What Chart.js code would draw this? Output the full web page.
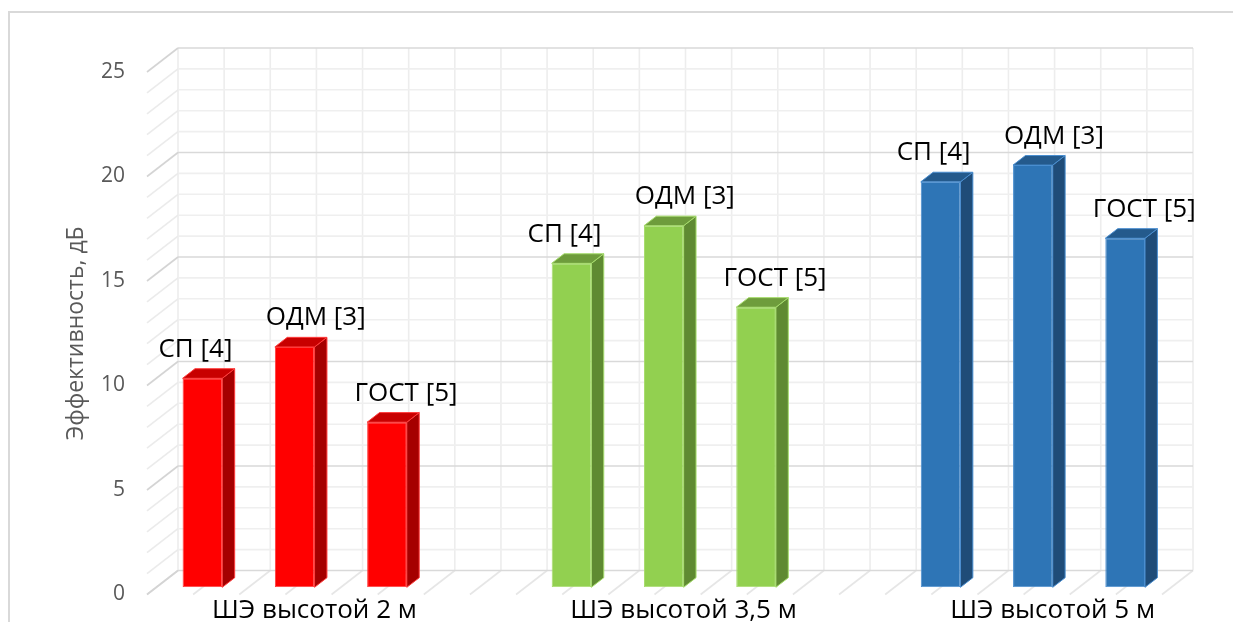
<!DOCTYPE html>
<html lang="ru">
<head>
<meta charset="utf-8">
<title>Эффективность шумозащитных экранов</title>
<script src="https://cdn.jsdelivr.net/npm/chart.js@4.4.1/dist/chart.umd.min.js"></script>
<style>
  html, body { margin: 0; padding: 0; background: #ffffff; }
  canvas { display: block; }
</style>
</head>
<body>
<canvas id="chart" width="1233" height="622"></canvas>
<script>
// ---- data ----
const groups = ['ШЭ высотой 2 м', 'ШЭ высотой 3,5 м', 'ШЭ высотой 5 м'];
const seriesNames = ['СП [4]', 'ОДМ [3]', 'ГОСТ [5]'];
const spValues = [10.0, 15.5, 19.4];
const odmValues = [11.5, 17.3, 20.2];
const gostValues = [7.9, 13.4, 16.7];
const yTicks = [0, 5, 10, 15, 20, 25];

// ---- look ----
const groupColors = [
  { front: '#ff0000', side: '#a50000', top: '#c80000', edge: '#ff3c3c' },
  { front: '#92d050', side: '#5f8a32', top: '#6e9c3c', edge: '#a6dc6c' },
  { front: '#2e75b6', side: '#1f4c78', top: '#245a8c', edge: '#4a8ed0' }
];
const labelShift = [-7, 21, 19];     // horizontal nudge of each series' value label
const DEPTH = { x: 31, y: -24 };     // floor depth: front plane -> back wall
const BAR_FRONT = 0.3;               // bars start 30% into the floor depth
const BAR_DEPTH = 0.4;               // and are 40% of it deep

// one slot per bar, plus an empty slot between groups
const seriesValues = [spValues, odmValues, gostValues];
const slotsPerGroup = seriesNames.length + 1;
const slotCount = groups.length * slotsPerGroup - 1;
const middleSeries = Math.floor(seriesNames.length / 2);
const slotLabels = Array.from({ length: slotCount }, (_, i) =>
  i % slotsPerGroup === middleSeries ? groups[Math.floor(i / slotsPerGroup)] : '');
const groupOf = i => Math.floor(i / slotsPerGroup);

const datasets = seriesValues.map((vals, s) => ({
  label: seriesNames[s],
  data: Array.from({ length: slotCount }, (_, i) =>
    i % slotsPerGroup === s ? vals[groupOf(i)] : null),
  backgroundColor: ctx => groupColors[groupOf(ctx.dataIndex)].front,
  borderColor: ctx => groupColors[groupOf(ctx.dataIndex)].edge,
  borderWidth: 1,
  borderSkipped: false,
  grouped: false,
  categoryPercentage: 1,
  barPercentage: 0.43
}));

function line(ctx, x1, y1, x2, y2) {
  ctx.beginPath();
  ctx.moveTo(x1, y1);
  ctx.lineTo(x2, y2);
  ctx.stroke();
}

function poly(ctx, pts, fill, stroke) {
  ctx.beginPath();
  ctx.moveTo(pts[0][0], pts[0][1]);
  for (let k = 1; k < pts.length; k++) ctx.lineTo(pts[k][0], pts[k][1]);
  ctx.closePath();
  ctx.fillStyle = fill;
  ctx.fill();
  ctx.strokeStyle = stroke;
  ctx.lineWidth = 1;
  ctx.stroke();
}

// outer frame of the chart
const framePlugin = {
  id: 'frame',
  beforeDraw(chart) {
    const { ctx } = chart;
    ctx.save();
    ctx.fillStyle = '#ffffff';
    ctx.fillRect(0, 0, chart.width, chart.height);
    ctx.strokeStyle = '#d9d9d9';
    ctx.lineWidth = 2;
    ctx.strokeRect(9, 12, chart.width + 50, chart.height + 50);
    ctx.restore();
  }
};

// walls, floor and the 3D column faces
const box3dPlugin = {
  id: 'box3d',
  beforeDatasetsDraw(chart) {
    const { ctx, chartArea: a, scales: { x, y } } = chart;
    const half = (x.getPixelForValue(1) - x.getPixelForValue(0)) / 2;
    const nLines = slotCount * 2;
    const yMin = y.min, yMax = y.max;
    const y0 = y.getPixelForValue(yMin);
    const yTop = y.getPixelForValue(yMax);

    ctx.save();
    ctx.lineWidth = 1.6;

    // back wall verticals and floor lines
    for (let k = 0; k <= nLines; k++) {
      const px = a.left + k * half;
      ctx.strokeStyle = '#ededed';
      line(ctx, px + DEPTH.x, yTop + DEPTH.y, px + DEPTH.x, y0 + DEPTH.y);
      ctx.strokeStyle = '#e6e6e6';
      line(ctx, px + DEPTH.x, y0 + DEPTH.y, px, y0);
    }
    // minor then major horizontal lines (back wall + side wall)
    [false, true].forEach(majorPass => {
      for (let v = yMin; v <= yMax; v += 1) {
        const major = yTicks.includes(v);
        if (major !== majorPass) continue;
        const py = y.getPixelForValue(v);
        ctx.strokeStyle = major ? '#d4d4d4' : '#ebebeb';
        line(ctx, a.left, py, a.left + DEPTH.x, py + DEPTH.y);
        ctx.strokeStyle = major ? '#d9d9d9' : '#efefef';
        line(ctx, a.left + DEPTH.x, py + DEPTH.y, a.right + DEPTH.x, py + DEPTH.y);
      }
    });
    ctx.restore();

    // columns are drawn in their own depth plane
    ctx.save();
    ctx.translate(DEPTH.x * BAR_FRONT, DEPTH.y * BAR_FRONT);
  },
  afterDatasetsDraw(chart) {
    const { ctx } = chart;
    const bx = DEPTH.x * BAR_DEPTH, by = DEPTH.y * BAR_DEPTH;
    chart.data.datasets.forEach((ds, s) => {
      const meta = chart.getDatasetMeta(s);
      meta.data.forEach((bar, i) => {
        if (ds.data[i] == null) return;
        const c = groupColors[groupOf(i)];
        const { x, y, base, width } = bar.getProps(['x', 'y', 'base', 'width'], true);
        const l = x - width / 2, r = x + width / 2;
        poly(ctx, [[r, y], [r + bx, y + by], [r + bx, base + by], [r, base]], c.side, c.edge);
        poly(ctx, [[l, y], [l + bx, y + by], [r + bx, y + by], [r, y]], c.top, c.edge);

        ctx.fillStyle = '#000000';
        ctx.font = '26px "Open Sans", sans-serif';
        ctx.textAlign = 'center';
        ctx.textBaseline = 'middle';
        ctx.fillText(ds.label, x + labelShift[s], y - 29);
      });
    });
    ctx.restore();
  }
};

Chart.defaults.font.family = '"Open Sans", sans-serif';

new Chart(document.getElementById('chart'), {
  type: 'bar',
  data: { labels: slotLabels, datasets },
  options: {
    responsive: false,
    animation: false,
    devicePixelRatio: 1,
    layout: { padding: { left: 0, top: 72, right: 71, bottom: 0 } },
    plugins: { legend: { display: false }, tooltip: { enabled: false } },
    scales: {
      x: {
        grid: { display: false, drawTicks: false },
        border: { display: false },
        ticks: {
          autoSkip: false,
          maxRotation: 0,
          padding: 0,
          labelOffset: 29,
          color: '#000000',
          font: { size: 26 }
        },
        afterFit: s => { s.height = 27.5; s.paddingLeft = 0; s.paddingRight = 0; }
      },
      y: {
        min: yTicks[0],
        max: yTicks[yTicks.length - 1],
        grid: { display: false, drawTicks: false },
        border: { display: false },
        afterBuildTicks: s => { s.ticks = yTicks.map(v => ({ value: v })); },
        ticks: { padding: 22, color: '#595959', font: { size: 21 } },
        title: {
          display: true,
          text: 'Эффективность, дБ',
          color: '#595959',
          font: { size: 23 },
          padding: { top: 63, bottom: 0 }
        },
        afterFit: s => { s.width = 147; s.paddingTop = 0; s.paddingBottom = 0; }
      }
    }
  },
  plugins: [framePlugin, box3dPlugin]
});
</script>
</body>
</html>
